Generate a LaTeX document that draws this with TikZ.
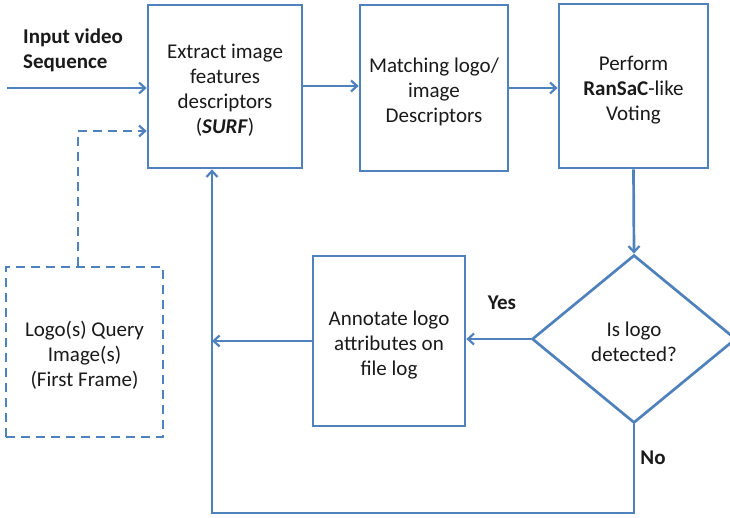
\documentclass[tikz,border=0pt]{standalone}
\usepackage{fontspec}
\setmainfont{Carlito}
\usetikzlibrary{shapes.geometric,arrows.meta}
\definecolor{flowblue}{HTML}{4F81BD}
\definecolor{ink}{HTML}{1A1A1A}
% struts that fix the height of the first line and the depth of the last one
\newcommand{\firstline}{\rule{0pt}{24pt}}
\newcommand{\lastline}{\rule[-5pt]{0pt}{5pt}}
\tikzset{
  stepbox/.style={draw=flowblue, line width=2.7pt, fill=white, inner sep=0pt,
    align=center, text=ink, font=\fontsize{21}{25}\selectfont},
  querybox/.style={stepbox, dash pattern=on 9pt off 6pt},
  decision/.style={stepbox, diamond, aspect=1.214},
  flow/.style={draw=flowblue, line width=2.7pt,
    -{Straight Barb[length=6pt,width=11pt,line width=2.2pt]}},
  tag/.style={text=ink, font=\fontsize{21}{25}\selectfont\bfseries, inner sep=0pt}
}
\begin{document}
\begin{tikzpicture}[x=1pt,y=-1pt]
  \useasboundingbox (0,0) rectangle (730,518);
  \clip (0,0) rectangle (730,518);
  \fill[white] (0,0) rectangle (730,518);

  % process boxes
  \node[stepbox, minimum width=154pt, minimum height=163pt] (extract) at (225,86.5)
    {\firstline Extract image\\features\\descriptors\\(\textbf{\textit{SURF}})\lastline};
  \node[stepbox, minimum width=148pt, minimum height=166pt] (match) at (434,88)
    {\firstline Matching logo/\\image\\Descriptors\lastline};
  \node[stepbox, minimum width=149pt, minimum height=164pt] (vote) at (633.5,86)
    {\firstline Perform\\\textbf{RanSaC}-like\\Voting\lastline};
  \node[decision, minimum width=204pt, minimum height=168pt] (detect) at (634,339)
    {\firstline Is logo\\detected?\lastline};
  \node[stepbox, minimum width=152pt, minimum height=170pt] (annot) at (389,341)
    {\firstline Annotate logo\\attributes on\\file log\lastline};
  \node[querybox, minimum width=157pt, minimum height=170pt] (query) at (84.5,352)
    {\firstline Logo(s) Query\\Image(s)\\(First Frame)\lastline};

  % labels
  \node[tag, anchor=west, align=left] (input) at (23,50) {Input video\\Sequence};
  \node[tag] (yes) at (502,303) {Yes};
  \node[tag] (no) at (653,458) {No};

  % helper points for free ends and bends
  \coordinate (src) at (7,88);
  \coordinate (qbend) at (78,131);
  \coordinate (loop) at (212,513);

  % connectors
  \draw[flow] (src) -- (src -| extract.west);
  \draw[flow] (extract.east |- 0,86) -- (match.west |- 0,86);
  \draw[flow] (match.east |- 0,88) -- (vote.west |- 0,88);
  \draw[flow, dash pattern=on 9pt off 6pt] (query.north -| qbend) -- (qbend) -- (qbend -| extract.west);
  \draw[flow] (vote.south) -- (detect.north);
  \draw[flow] (detect.west) -- (annot.east |- detect.west);
  \draw[flow] (annot.west) -- (loop |- annot.west);
  \draw[flow] (detect.south) |- (loop) -- (loop |- extract.south);
\end{tikzpicture}
\end{document}
